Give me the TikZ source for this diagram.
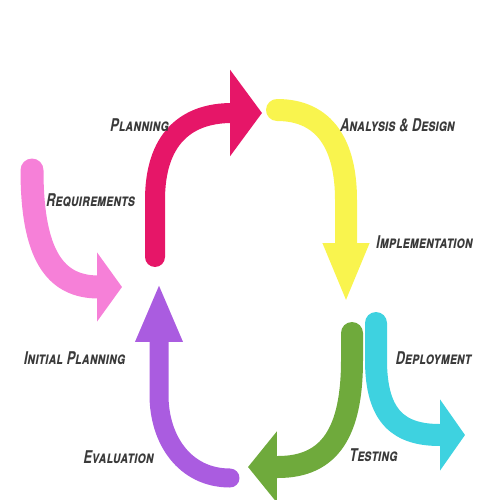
\documentclass[tikz,border=0pt]{standalone}
\usepackage{fontspec}
\newfontfamily\handfont[FakeSlant=0.18, FakeStretch=0.73]{TeX Gyre Heros}
\usetikzlibrary{arrows.meta}

\definecolor{reqpink}{RGB}{246,128,216}
\definecolor{planred}{RGB}{230,22,104}
\definecolor{designyellow}{RGB}{249,244,78}
\definecolor{testgreen}{RGB}{111,170,60}
\definecolor{deploycyan}{RGB}{62,210,224}
\definecolor{evalpurple}{RGB}{170,92,224}
\definecolor{labelgray}{RGB}{58,58,58}

\begin{document}
\begin{tikzpicture}[
  x=0.02cm, y=-0.02cm,
  flow/.style={line cap=round, line join=round},
  stagelabel/.style={font=\handfont\bfseries\scshape\fontsize{10}{11}\selectfont,
    text=labelgray, inner sep=0pt}
]
  \useasboundingbox (0,0) rectangle (500,500);

  % Arrow end points
  \coordinate (req-tail)    at (32,170);
  \coordinate (req-tip)     at (122,287);
  \coordinate (plan-tail)   at (155,257);
  \coordinate (plan-tip)    at (262,113);
  \coordinate (design-tail) at (277,110);
  \coordinate (design-tip)  at (346,303);
  \coordinate (test-tail)   at (352,333);
  \coordinate (test-tip)    at (248,467);
  \coordinate (deploy-tail) at (376,323);
  \coordinate (deploy-tip)  at (465,435);
  \coordinate (eval-tail)   at (230,478);
  \coordinate (eval-tip)    at (159,283);

  % Left entry arrow
  \draw[flow, draw=reqpink, line width=0.46cm,
    -{Triangle[length=0.5cm, width=1.36cm]}]
    (req-tail) .. controls (32,255) and (55,287) .. (req-tip);

  % The cycle
  \draw[flow, draw=planred, line width=0.4cm,
    -{Triangle[length=0.64cm, width=1.7cm]}]
    (plan-tail) -- (155,200) .. controls (155,140) and (185,113) .. (232,113) -- (plan-tip);
  \draw[flow, draw=designyellow, line width=0.44cm,
    -{Triangle[length=1.2cm, width=0.84cm]}]
    (design-tail) .. controls (325,110) and (346,145) .. (346,200) -- (design-tip);
  \draw[flow, draw=testgreen, line width=0.44cm,
    -{Triangle[length=0.58cm, width=1.4cm]}]
    (test-tail) -- (352,360) .. controls (352,432) and (330,467) .. (278,467) -- (test-tip);
  \draw[flow, draw=evalpurple, line width=0.38cm,
    -{Triangle[length=1.18cm, width=0.86cm]}]
    (eval-tail) .. controls (185,478) and (159,440) .. (159,395) -- (eval-tip);

  % Right exit arrow
  \draw[flow, draw=deploycyan, line width=0.44cm,
    -{Triangle[length=0.5cm, width=1.4cm]}]
    (deploy-tail) -- (376,360) .. controls (376,418) and (400,435) .. (440,435) -- (deploy-tip);

  % Stage labels
  \node[stagelabel] (planning)     at (139,125) {Planning};
  \node[stagelabel] (requirements) at (90,200)  {Requirements};
  \node[stagelabel] (analysis)     at (397,125) {Analysis \& Design};
  \node[stagelabel] (implement)    at (424,242) {Implementation};
  \node[stagelabel] (initial)      at (74,358)  {Initial Planning};
  \node[stagelabel] (deployment)   at (433,358) {Deployment};
  \node[stagelabel] (evaluation)   at (118,457) {Evaluation};
  \node[stagelabel] (testing)      at (373,455) {Testing};

\end{tikzpicture}
\end{document}
